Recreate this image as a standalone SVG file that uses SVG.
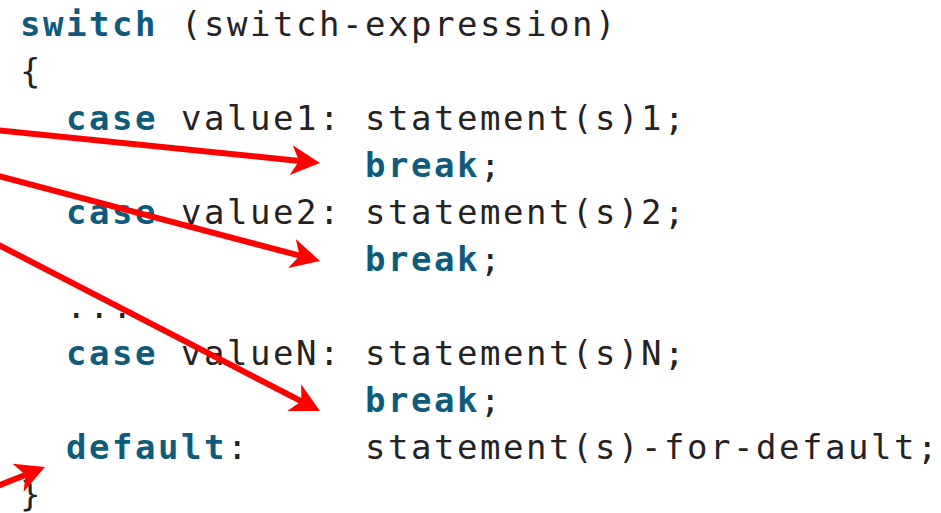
<svg xmlns="http://www.w3.org/2000/svg" width="941" height="513" viewBox="0 0 941 513">
<style>
.code{font-family:"DejaVu Sans Mono","Liberation Mono",monospace;font-size:34px;letter-spacing:2.53px;fill:#26221f;}
.kw{font-weight:bold;fill:#0f5b7c;}
.arrow{stroke:#ff0000;stroke-width:6;fill:none;marker-end:url(#head);}
</style>
<defs>
<marker id="head" viewBox="-31 -17 34 34" refX="-18" refY="0" markerWidth="34" markerHeight="34" markerUnits="userSpaceOnUse" orient="auto">
<path d="M0,0 L-29,-15 L-21,0 L-29,15 Z" fill="#ff0000"/>
</marker>
</defs>
<rect width="941" height="513" fill="#ffffff"/>
<g id="line-switch"><text class="code" x="20" y="36" xml:space="preserve"><tspan class="kw">switch</tspan> (switch-expression)</text></g>
<g id="line-open"><text class="code" x="20" y="83" xml:space="preserve">{</text></g>
<g id="line-case1"><text class="code" x="20" y="130" xml:space="preserve">  <tspan class="kw">case</tspan> value1: statement(s)1;</text></g>
<g id="line-break1"><text class="code" x="20" y="177" xml:space="preserve">               <tspan class="kw">break</tspan>;</text></g>
<g id="line-case2"><text class="code" x="20" y="224" xml:space="preserve">  <tspan class="kw">case</tspan> value2: statement(s)2;</text></g>
<g id="line-break2"><text class="code" x="20" y="271" xml:space="preserve">               <tspan class="kw">break</tspan>;</text></g>
<g id="line-dots"><text class="code" x="20" y="318" xml:space="preserve">  ...</text></g>
<g id="line-caseN"><text class="code" x="20" y="365" xml:space="preserve">  <tspan class="kw">case</tspan> valueN: statement(s)N;</text></g>
<g id="line-breakN"><text class="code" x="20" y="412" xml:space="preserve">               <tspan class="kw">break</tspan>;</text></g>
<g id="line-default"><text class="code" x="20" y="459" xml:space="preserve">  <tspan class="kw">default</tspan>:     statement(s)-for-default;</text></g>
<g id="line-close"><text class="code" x="20" y="506" xml:space="preserve">}</text></g>
<g id="connectors">
<line class="arrow" x1="-5" y1="130" x2="302.1" y2="161.2"/>
<line class="arrow" x1="-5" y1="175" x2="302.6" y2="256.4"/>
<line class="arrow" x1="-5" y1="243" x2="304" y2="402.7"/>
<line class="arrow" x1="-5" y1="487" x2="28.3" y2="473.7"/>
</g>
</svg>
